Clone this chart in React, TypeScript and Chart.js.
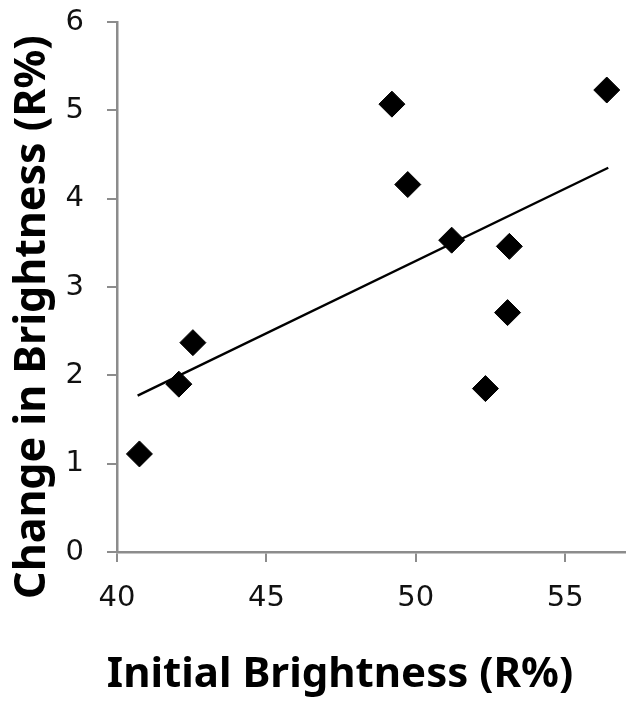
import React, { useEffect, useRef } from "react";
import { Chart, registerables } from "chart.js";

Chart.register(...registerables);

// Data
const initialBrightness = [40.75, 42.07, 42.54, 49.2, 49.73, 51.2, 53.13, 53.07, 52.33, 56.39];
const changeInBrightness = [1.11, 1.9, 2.37, 5.07, 4.16, 3.53, 3.46, 2.71, 1.85, 5.23];
const trendX = [40.69, 56.44];
const trendY = [1.77, 4.35];

const xTitle = "Initial Brightness (R%)";
const yTitle = "Change in Brightness (R%)";
const xTicks = [40, 45, 50, 55];
const yTicks = [0, 1, 2, 3, 4, 5, 6];

const X_TITLE_FONT = 'bold 42px "Noto Sans", "DejaVu Sans", sans-serif';
const Y_TITLE_FONT = 'bold 43px "Noto Sans", "DejaVu Sans", sans-serif';

const titlePlugin = {
  id: "axisTitles",
  afterDraw(chart: any) {
    const ctx = chart.ctx as CanvasRenderingContext2D;
    const area = chart.chartArea;
    ctx.save();
    ctx.fillStyle = "#000";
    ctx.textAlign = "center";
    ctx.textBaseline = "alphabetic";
    ctx.font = X_TITLE_FONT;
    ctx.fillText(xTitle, 340, 687);
    ctx.font = Y_TITLE_FONT;
    ctx.translate(45, (area.top + area.bottom) / 2 + 30);
    ctx.rotate(-Math.PI / 2);
    ctx.fillText(yTitle, 0, 0);
    ctx.restore();
  },
};

export default function App() {
  const canvasRef = useRef<HTMLCanvasElement | null>(null);

  useEffect(() => {
    const canvas = canvasRef.current;
    if (!canvas) return;
    const points = initialBrightness.map((x, i) => ({ x, y: changeInBrightness[i] }));
    const trend = trendX.map((x, i) => ({ x, y: trendY[i] }));
    const axisColor = "#8c8c8c";
    const tickFont = { family: '"DejaVu Sans", sans-serif', size: 29 };

    const chart = new Chart(canvas, {
      type: "scatter",
      data: {
        datasets: [
          {
            type: "line",
            data: trend,
            borderColor: "#000",
            borderWidth: 2.4,
            pointRadius: 0,
            fill: false,
            tension: 0,
            order: 2,
          } as any,
          {
            type: "scatter",
            data: points,
            pointStyle: "rectRot",
            pointRadius: 13,
            pointBackgroundColor: "#000",
            pointBorderColor: "#000",
            pointBorderWidth: 1,
            order: 1,
          } as any,
        ],
      },
      options: {
        responsive: false,
        animation: false,
        devicePixelRatio: 1,
        layout: { padding: { left: 0, right: 12, top: 22, bottom: 0 } },
        plugins: {
          legend: { display: false },
          tooltip: { enabled: false },
        },
        scales: {
          x: {
            type: "linear",
            min: 40,
            max: 57,
            afterFit: (s: any) => {
              s.height = 155;
              s.paddingLeft = 0;
              s.paddingRight = 0;
            },
            afterBuildTicks: (s: any) => {
              s.ticks = xTicks.map((v) => ({ value: v }));
            },
            ticks: { font: tickFont, color: "#111", padding: 19, includeBounds: false },
            grid: {
              display: true,
              drawOnChartArea: false,
              drawTicks: true,
              tickLength: 10,
              color: axisColor,
              lineWidth: 2,
            },
            border: { display: true, color: axisColor, width: 2.5 },
          },
          y: {
            type: "linear",
            min: 0,
            max: 6,
            afterFit: (s: any) => {
              s.width = 117;
              s.paddingTop = 0;
              s.paddingBottom = 0;
            },
            afterBuildTicks: (s: any) => {
              s.ticks = yTicks.map((v) => ({ value: v }));
            },
            ticks: { font: tickFont, color: "#111", padding: 23 },
            grid: {
              display: true,
              drawOnChartArea: false,
              drawTicks: true,
              tickLength: 10,
              color: axisColor,
              lineWidth: 2,
            },
            border: { display: true, color: axisColor, width: 2.5 },
          },
        },
      },
      plugins: [titlePlugin],
    });
    return () => chart.destroy();
  }, []);

  return (
    <div style={{ position: "absolute", left: 0, top: 0, width: 639, height: 707, background: "#fff" }}>
      <canvas ref={canvasRef} width={639} height={707} style={{ display: "block" }} />
    </div>
  );
}
